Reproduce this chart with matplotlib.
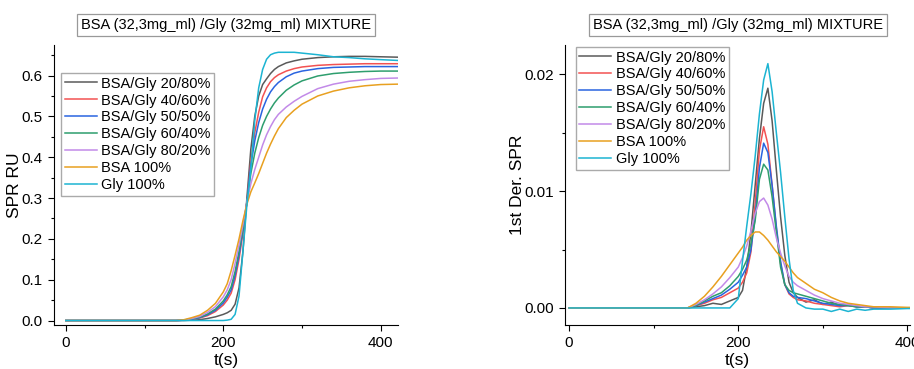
import matplotlib
matplotlib.use("Agg")
import matplotlib.pyplot as plt

plt.rcParams['font.family'] = ['Liberation Sans', 'DejaVu Sans']

title = "BSA (32,3mg_ml) /Gly (32mg_ml) MIXTURE"
labels = ["BSA/Gly 20/80%", "BSA/Gly 40/60%", "BSA/Gly 50/50%", "BSA/Gly 60/40%",
          "BSA/Gly 80/20%", "BSA 100%", "Gly 100%"]
colors = ["#5a5a5a", "#f25252", "#2a64e0", "#2e9e6e", "#c28ae8", "#e8a020", "#1cb4d2"]

# SPR curves (left)
t1 = [0, 140, 150, 160, 170, 180, 190, 200, 205, 210, 215, 220, 225, 230, 235, 240,
      245, 250, 255, 260, 265, 270, 280, 290, 300, 320, 340, 360, 380, 400, 422]
spr_20_80 = [0, 0, 0, 0.001, 0.002, 0.005, 0.009, 0.015, 0.019, 0.025, 0.04, 0.08, 0.17, 0.3, 0.42, 0.5,
             0.55, 0.578, 0.592, 0.605, 0.615, 0.622, 0.631, 0.636, 0.64, 0.644, 0.646, 0.647, 0.647, 0.646, 0.645]
spr_40_60 = [0, 0, 0.001, 0.003, 0.006, 0.012, 0.022, 0.038, 0.05, 0.067, 0.1, 0.15, 0.215, 0.29, 0.39, 0.46,
             0.51, 0.548, 0.57, 0.585, 0.595, 0.602, 0.611, 0.617, 0.621, 0.625, 0.627, 0.628, 0.629, 0.629, 0.629]
spr_50_50 = [0, 0, 0.001, 0.003, 0.007, 0.014, 0.025, 0.043, 0.057, 0.075, 0.11, 0.16, 0.22, 0.29, 0.38, 0.44,
             0.485, 0.518, 0.542, 0.56, 0.573, 0.583, 0.597, 0.606, 0.611, 0.617, 0.62, 0.621, 0.622, 0.622, 0.622]
spr_60_40 = [0, 0, 0.001, 0.004, 0.008, 0.016, 0.028, 0.048, 0.063, 0.083, 0.12, 0.17, 0.225, 0.29, 0.36, 0.41,
             0.448, 0.478, 0.5, 0.518, 0.533, 0.545, 0.564, 0.577, 0.587, 0.599, 0.605, 0.608, 0.61, 0.611, 0.611]
spr_80_20 = [0, 0, 0.001, 0.005, 0.01, 0.02, 0.034, 0.058, 0.075, 0.1, 0.14, 0.185, 0.235, 0.29, 0.335, 0.37,
             0.4, 0.43, 0.455, 0.475, 0.492, 0.505, 0.523, 0.537, 0.549, 0.568, 0.579, 0.586, 0.59, 0.593, 0.594]
spr_bsa = [0, 0, 0.002, 0.007, 0.013, 0.025, 0.042, 0.07, 0.09, 0.122, 0.16, 0.2, 0.245, 0.285, 0.315, 0.337,
           0.36, 0.385, 0.41, 0.432, 0.452, 0.47, 0.497, 0.515, 0.53, 0.55, 0.562, 0.57, 0.575, 0.578, 0.579]
spr_gly = [0, 0, 0, 0, 0, 0, 0, 0, 0.001, 0.003, 0.015, 0.06, 0.17, 0.283, 0.37, 0.49,
           0.57, 0.615, 0.64, 0.651, 0.655, 0.657, 0.657, 0.657, 0.655, 0.651, 0.646, 0.644, 0.641, 0.639, 0.637]

# first derivative (right)
t2 = [0, 140, 150, 160, 170, 180, 190, 200, 205, 210, 215, 220, 225, 230, 235, 240, 245, 250,
      255, 260, 265, 270, 280, 290, 300, 310, 320, 330, 340, 350, 360, 380, 400, 410]
der_20_80 = [0, 0, 0.0001, 0.0002, 0.0004, 0.0003, 0.0006, 0.0009, 0.0015, 0.0035, 0.0065, 0.0105, 0.0145, 0.0175,
             0.0188, 0.016, 0.0118, 0.0078, 0.0045, 0.0022, 0.0013, 0.0009, 0.0005, 0.0007, 0.0003, 0.0005, 0.0002,
             0.0003, 0.0001, 0.0001, 0.0, 0.0, 0.0, 0.0]
der_40_60 = [0, 0, 0.0002, 0.0004, 0.0007, 0.0009, 0.0013, 0.0017, 0.0022, 0.003, 0.0048, 0.009, 0.0135, 0.0155,
             0.014, 0.0105, 0.0068, 0.0038, 0.002, 0.0012, 0.0009, 0.0007, 0.0006, 0.0004, 0.0003, 0.0002, 0.0001,
             0.0002, 0.0001, 0.0001, 0.0, 0.0, 0.0, 0.0]
der_50_50 = [0, 0, 0.0002, 0.0005, 0.0008, 0.0011, 0.0016, 0.0022, 0.0028, 0.0035, 0.005, 0.0078, 0.012, 0.0141,
             0.0133, 0.0105, 0.007, 0.004, 0.002, 0.0013, 0.001, 0.0009, 0.0008, 0.0006, 0.0004, 0.0003, 0.0002,
             0.0002, 0.0001, 0.0001, 0.0, 0.0, 0.0, 0.0]
der_60_40 = [0, 0, 0.0002, 0.0006, 0.001, 0.0013, 0.0019, 0.0027, 0.0033, 0.0041, 0.0055, 0.0075, 0.011, 0.0123,
             0.0118, 0.0095, 0.0065, 0.0035, 0.002, 0.0015, 0.0013, 0.0012, 0.001, 0.0008, 0.0006, 0.0004, 0.0003,
             0.0002, 0.0001, 0.0001, 0.0001, 0.0, 0.0, 0.0]
der_80_20 = [0, 0, 0.0003, 0.0007, 0.0012, 0.0018, 0.0026, 0.0035, 0.0043, 0.0053, 0.0066, 0.0081, 0.0091, 0.0094,
             0.0088, 0.0076, 0.006, 0.0047, 0.0036, 0.0027, 0.0022, 0.0019, 0.0015, 0.0011, 0.0008, 0.0006, 0.0004,
             0.0003, 0.0002, 0.0001, 0.0001, 0.0, 0.0, 0.0]
der_bsa = [0, 0, 0.0004, 0.001, 0.0018, 0.0027, 0.0037, 0.0047, 0.0052, 0.0058, 0.0062, 0.0065, 0.0065, 0.0062,
           0.0058, 0.0053, 0.0048, 0.0044, 0.004, 0.0035, 0.003, 0.0026, 0.0021, 0.0016, 0.0013, 0.0009, 0.0006,
           0.0004, 0.0003, 0.0002, 0.0001, 0.0001, 0.00005, 0.00005]
der_gly = [0, 0, 0, 0, 0, 0, 0, 0.0008, 0.004, 0.007, 0.0098, 0.013, 0.0166, 0.0195, 0.0209, 0.0185, 0.015, 0.0116,
           0.0078, 0.0042, 0.0015, 0.0004, 0.0, -0.0001, -0.0001, -0.0003, -0.0001, -0.0003, -0.0001, -0.0002,
           -0.0001, -0.0001, -0.00005, -0.00005]

spr = [spr_20_80, spr_40_60, spr_50_50, spr_60_40, spr_80_20, spr_bsa, spr_gly]
der = [der_20_80, der_40_60, der_50_50, der_60_40, der_80_20, der_bsa, der_gly]

fig = plt.figure(figsize=(9.14, 3.69), dpi=100)
ax1 = fig.add_axes([0.0591, 0.1192, 0.3764, 0.759])
ax2 = fig.add_axes([0.6185, 0.1192, 0.3771, 0.759])


def style(ax):
    ax.spines['top'].set_visible(False)
    ax.spines['right'].set_visible(False)
    ax.tick_params(which='major', direction='out', length=4, width=0.8, labelsize=11, pad=4)
    ax.tick_params(which='minor', direction='out', length=2, width=0.8)
    ax.set_xticks([0, 200, 400])
    ax.set_xticks([100, 300], minor=True)
    ax.set_xlabel("t(s)", fontsize=12.5, labelpad=2)
    ax.set_title(title, fontsize=10.5, pad=11.5,
                 bbox=dict(facecolor='white', edgecolor='#999999', linewidth=0.9, pad=2.8))


def add_legend(ax, anchor):
    ax.legend(loc='upper left', bbox_to_anchor=anchor, borderaxespad=0, fontsize=10.5,
              fancybox=False, edgecolor='#aaaaaa', framealpha=1, handlelength=2.2,
              handletextpad=0.3, labelspacing=0.2, borderpad=0.25)


for y, c, lab in zip(spr, colors, labels):
    ax1.plot(t1, y, color=c, lw=1.1, label=lab)
ax1.set_xlim(-15, 422)
ax1.set_ylim(-0.011, 0.675)
ax1.set_yticks([0, 0.1, 0.2, 0.3, 0.4, 0.5, 0.6])
ax1.set_yticks([0.05, 0.15, 0.25, 0.35, 0.45, 0.55, 0.65], minor=True)
ax1.set_yticklabels(["0.0", "0.1", "0.2", "0.3", "0.4", "0.5", "0.6"])
ax1.set_ylabel("SPR RU", fontsize=12.5, labelpad=0)
style(ax1)
add_legend(ax1, (0.02, 0.9))

for y, c, lab in zip(der, colors, labels):
    ax2.plot(t2, y, color=c, lw=1.1, label=lab)
ax2.set_xlim(-4.5, 403)
ax2.set_ylim(-0.00146, 0.0225)
ax2.set_yticks([0, 0.01, 0.02])
ax2.set_yticks([0.005, 0.015], minor=True)
ax2.set_yticklabels(["0.00", "0.01", "0.02"])
ax2.set_ylabel("1st Der. SPR", fontsize=12.5, labelpad=0)
style(ax2)
add_legend(ax2, (0.03, 0.993))

fig.savefig("out.png", dpi=100)
